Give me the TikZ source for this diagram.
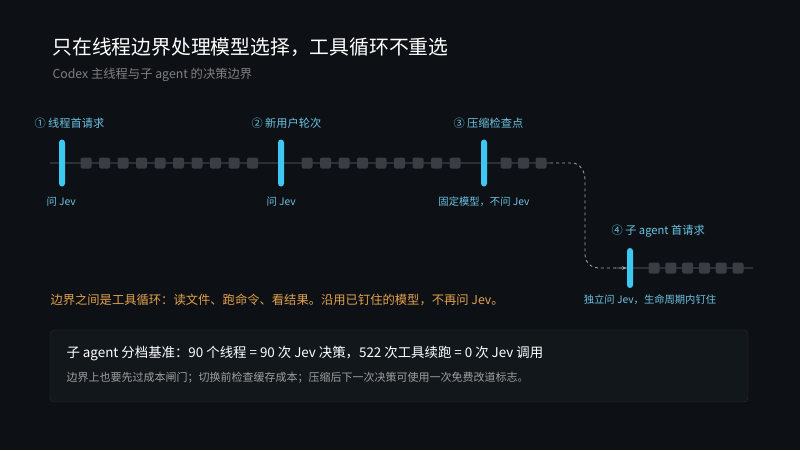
\documentclass[tikz,border=0pt]{standalone}
\usepackage{fontspec}
\setmainfont{Noto Sans CJK SC}
\usetikzlibrary{arrows.meta}
\definecolor{bg}{HTML}{0D1014}
\definecolor{cyanbar}{HTML}{3CC8F0}
\definecolor{cyantext}{HTML}{6CC4E4}
\definecolor{stepgray}{HTML}{3A3E44}
\definecolor{track}{HTML}{2C3036}
\definecolor{orangetext}{HTML}{E2A24E}
\definecolor{boxfill}{HTML}{12171C}
\definecolor{boxline}{HTML}{2A3138}
\begin{document}
\begin{tikzpicture}[x=1pt,y=-1pt,
    bar/.style={fill=cyanbar,rounded corners=3pt,minimum width=6pt,minimum height=47pt,inner sep=0pt},
    tool step/.style={fill=stepgray,rounded corners=2pt,minimum size=11pt,inner sep=0pt},
    head/.style={text=cyantext,font=\fontsize{11.2}{13}\selectfont},
    note/.style={text=cyantext,font=\fontsize{10.3}{12}\selectfont}]
  \fill[bg] (0,0) rectangle (800,450);
  \useasboundingbox (0,0) rectangle (800,450);
  % Title
  \node[anchor=west,text=white,font=\fontsize{19.8}{23}\selectfont] (title) at (49,47) {只在线程边界处理模型选择，工具循环不重选};
  \node[anchor=west,text=gray,font=\fontsize{12.3}{14}\selectfont] (sub) at (49,75) {Codex 主线程与子 agent 的决策边界};
  % Main track
  \coordinate (ts) at (50,163);
  \coordinate (te) at (550,163);
  \draw[track,line width=1.5pt] (ts) -- (te);
  \foreach \i in {0,...,9} \node[tool step] at (86+\i*18.5,163) {};
  \foreach \i in {0,...,8} \node[tool step] at (307+\i*18.5,163) {};
  \foreach \i in {0,...,2} \node[tool step] at (506+\i*17.5,163) {};
  \node[bar] (b1) at (62,163) {};
  \node[bar] (b2) at (281,163) {};
  \node[bar] (b3) at (484,163) {};
  % Sub agent track
  \coordinate (ss) at (615,268);
  \coordinate (se) at (753,268);
  \draw[track,line width=1.5pt] (ss) -- (se);
  \foreach \i in {0,...,5} \node[tool step] at (654+\i*16.8,268) {};
  \node[bar,minimum height=40pt] (b4) at (630,268) {};
  % Dashed hand-off
  \draw[gray!70,dashed,line width=0.8pt,-{Stealth[length=5pt]}]
    (te) -- (572,163) to[out=0,in=90] (585,180) -- (585,255) to[out=-90,in=180] (598,268) -- (b4.west);
  % Labels
  \node[head,anchor=west] (h1) at (31,123) {① 线程首请求};
  \node[head,anchor=west] (h2) at (248,123) {② 新用户轮次};
  \node[head,anchor=west] (h3) at (450,123) {③ 压缩检查点};
  \node[head,anchor=west] (h4) at (608,231) {④ 子 agent 首请求};
  \node[note,anchor=west] (n1) at (43,202) {问 Jev};
  \node[note,anchor=west] (n2) at (263,202) {问 Jev};
  \node[note] (n3) at (484,202) {固定模型，不问 Jev};
  \node[note] (n4) at (650,300) {独立问 Jev，生命周期内钉住};
  \node[anchor=west,text=orangetext,font=\fontsize{12.3}{14}\selectfont] (loop) at (47,300) {边界之间是工具循环：读文件、跑命令、看结果。沿用已钉住的模型，不再问 Jev。};
  % Summary box
  \draw[fill=boxfill,draw=boxline,rounded corners=4pt] (50,330) rectangle (748,402);
  \node[anchor=west,text=white,font=\fontsize{13.4}{16}\selectfont] (sum) at (63,354) {子 agent 分档基准：90 个线程 = 90 次 Jev 决策，522 次工具续跑 = 0 次 Jev 调用};
  \node[anchor=west,text=gray!75,font=\fontsize{11}{13}\selectfont] (sumnote) at (63,378) {边界上也要先过成本闸门；切换前检查缓存成本；压缩后下一次决策可使用一次免费改道标志。};
\end{tikzpicture}
\end{document}
